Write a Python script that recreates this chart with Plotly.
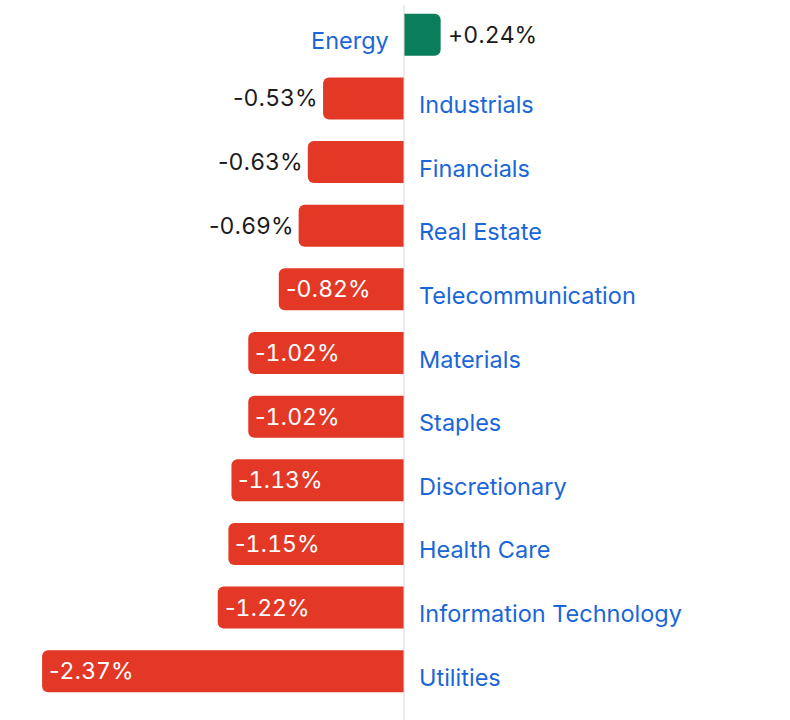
import re
import plotly.graph_objects as go

categories = ["Energy", "Industrials", "Financials", "Real Estate", "Telecommunication",
              "Materials", "Staples", "Discretionary", "Health Care",
              "Information Technology", "Utilities"]
values = [0.24, -0.53, -0.63, -0.69, -0.82, -1.02, -1.02, -1.13, -1.15, -1.22, -2.37]
value_labels = ["+0.24%", "-0.53%", "-0.63%", "-0.69%", "-0.82%", "-1.02%", "-1.02%",
                "-1.13%", "-1.15%", "-1.22%", "-2.37%"]

GREEN = "#0a7d5a"
RED = "#e33826"
BLUE = "#1a66d9"
DARK = "#1b1b1b"
FONT = "Inter"
FS = 23.5
FSV = 23


def tnum(s):
    # tabular digits only; sign, decimal point and percent stay proportional
    return re.sub(r"(\d+)",
                  lambda m: '<span style="font-variant-numeric:tabular-nums">' + m.group(1) + '</span>',
                  s)


colors = [GREEN if v >= 0 else RED for v in values]

fig = go.Figure(go.Bar(
    x=values, y=categories, orientation="h",
    marker=dict(color=colors, line=dict(width=0)),
    hoverinfo="skip",
))

annotations = []
for cat, v, lab in zip(categories, values, value_labels):
    if v >= 0:
        annotations.append(dict(x=v, y=cat, text=tnum(lab), xanchor="left", xshift=5,
                                showarrow=False, font=dict(family=FONT, size=FSV, color=DARK)))
        annotations.append(dict(x=0, y=cat, text=cat, xanchor="right", xshift=-13, yshift=-6,
                                showarrow=False, font=dict(family=FONT, size=FS, color=BLUE)))
    else:
        if v > -0.75:
            annotations.append(dict(x=v, y=cat, text=tnum(lab), xanchor="right", xshift=-3,
                                    showarrow=False, font=dict(family=FONT, size=FSV, color=DARK)))
        else:
            annotations.append(dict(x=v, y=cat, text=tnum(lab), xanchor="left", xshift=5,
                                    showarrow=False, font=dict(family=FONT, size=FSV, color="white")))
        annotations.append(dict(x=0, y=cat, text=cat, xanchor="left", xshift=13, yshift=-6,
                                showarrow=False, font=dict(family=FONT, size=FS, color=BLUE)))

fig.update_layout(
    width=790, height=720,
    margin=dict(l=0, r=0, t=3, b=17),
    paper_bgcolor="white", plot_bgcolor="white",
    barcornerradius=6,
    bargap=0.34,
    showlegend=False,
    xaxis=dict(range=[-404 / 152.7, 386 / 152.7], showgrid=False, zeroline=False,
               showticklabels=False, fixedrange=True),
    yaxis=dict(autorange="reversed", showgrid=False, zeroline=False,
               showticklabels=False, fixedrange=True),
    annotations=annotations,
    shapes=[dict(type="line", xref="x", yref="paper", x0=0, x1=0, y0=-0.03, y1=0.997,
                 line=dict(color="#d9d9d9", width=1), layer="above")],
)

fig.write_html("out.html")
